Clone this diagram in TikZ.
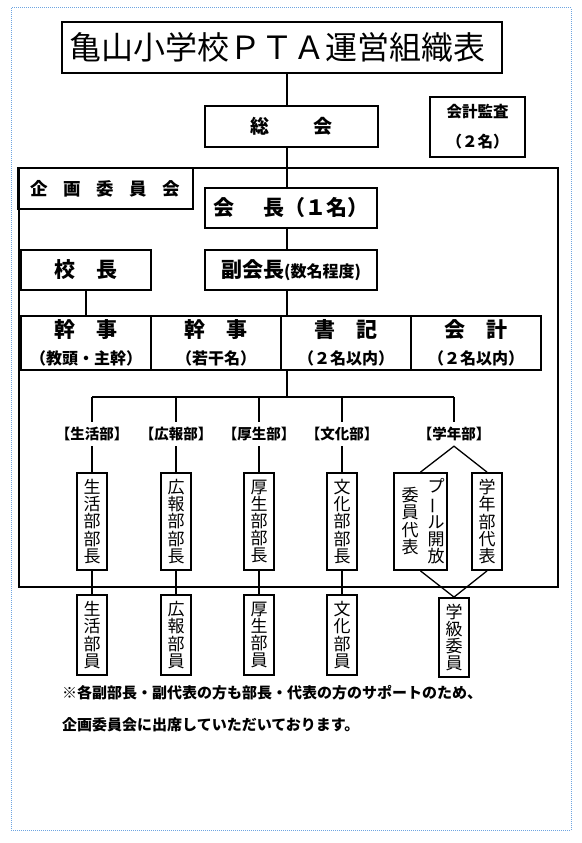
\documentclass[tikz,border=0pt]{standalone}
\usepackage{fontspec}
\setmainfont{Noto Sans CJK JP}
\usetikzlibrary{positioning}

\newcommand{\fs}[2]{\fontsize{#1}{#2}\selectfont}

\begin{document}
\begin{tikzpicture}[x=1pt, y=-1pt,
    box/.style={rectangle, draw=black, line width=1.3pt, inner sep=0pt, align=center, font=\bfseries\fs{21}{24}},
    thickbox/.style={box, line width=2.8pt},
    yaku/.style={box, minimum width=130pt, minimum height=54pt, font=\bfseries\fs{16}{27}},
    dept/.style={inner sep=0pt, minimum height=24pt, font=\bfseries\fs{14.5}{14.5}},
    tatebox/.style={rectangle, draw=black, line width=1.8pt, inner sep=0pt, minimum width=30pt, align=center, font=\fs{17}{17.2}},
    tatetext/.style={inner sep=0pt, align=center, font=\fs{17}{17.2}},
    link/.style={line width=1.3pt}
]
\useasboundingbox (0,0) rectangle (581,843);
\draw[densely dotted, line width=1pt, draw={rgb,255:red,110;green,165;blue,225}] (11,8) rectangle (571,830);

% top of the chart
\node[box, line width=2pt, minimum height=51pt, align=left, text width=426pt, inner xsep=7pt, font=\fs{32}{32}] (title) at (282,47.5) {亀山小学校ＰＴＡ運営組織表};
\node[thickbox, minimum width=173pt, minimum height=41pt, font=\bfseries\fs{19}{20}] (soukai) at (291.5,126.5) {総\hspace{2.3em}会};
\node[box, line width=1.8pt, minimum width=95pt, minimum height=60pt, font=\bfseries\fs{15.5}{30}] (kansa) at (477.5,127) {会計監査\\（２名）};

% planning committee
\node[draw, line width=2.2pt, minimum width=539pt, minimum height=419pt, inner sep=0pt] (kikaku) at (288.5,377.5) {};
\node[thickbox, minimum width=175pt, minimum height=41pt, font=\bfseries\fs{17.5}{17.5}] (kikakulabel) at (105.5,188.5) {企\hspace{0.88em}画\hspace{0.88em}委\hspace{0.88em}員\hspace{0.88em}会};
\node[box, minimum width=172pt, minimum height=40pt] (kaicho) at (291,208) {会\hspace{1.4em}長（１名）};
\node[box, minimum width=172pt, minimum height=40pt] (fuku) at (291,270) {副会長{\fs{16}{16}(数名程度)}};
\node[box, line width=1.8pt, minimum width=130pt, minimum height=40pt] (kocho) at (86,270) {校　長};

\node[yaku] (kanji1) at (86,343) {{\fs{21}{27}幹　事}\\（教頭・主幹）};
\node[yaku] (kanji2) at (216,343) {{\fs{21}{27}幹　事}\\（若干名）};
\node[yaku] (shoki) at (346,343) {{\fs{21}{27}書　記}\\（２名以内）};
\node[yaku] (kaikei) at (476,343) {{\fs{21}{27}会　計}\\（２名以内）};

% departments
\node[dept] (lab1) at (92,434) {【生活部】};
\node[dept] (lab2) at (176,434) {【広報部】};
\node[dept] (lab3) at (259,434) {【厚生部】};
\node[dept] (lab4) at (342,434) {【文化部】};
\node[dept] (lab5) at (454,434) {【学年部】};

\node[tatebox, minimum height=97pt] (head1) at (92,521.5) {生\\活\\部\\部\\長};
\node[tatebox, minimum height=97pt] (head2) at (176,521.5) {広\\報\\部\\部\\長};
\node[tatebox, minimum height=97pt] (head3) at (259,521.5) {厚\\生\\部\\部\\長};
\node[tatebox, minimum height=97pt] (head4) at (342,521.5) {文\\化\\部\\部\\長};
\node[tatebox, minimum width=53pt, minimum height=97pt] (pool) at (420.5,521.5) {};
\node[tatetext] (poolR) at (436,521) {プ\\\rotatebox[origin=c]{90}{ー}\\ル\\開\\放};
\node[tatetext] (poolL) at (410,521) {委\\員\\代\\表};
\node[tatebox, minimum height=97pt] (gakunen) at (487,521.5) {学\\年\\部\\代\\表};

\node[tatebox, minimum height=80pt] (mem1) at (92,635) {生\\活\\部\\員};
\node[tatebox, minimum height=80pt] (mem2) at (176,635) {広\\報\\部\\員};
\node[tatebox, minimum height=80pt] (mem3) at (259,635) {厚\\生\\部\\員};
\node[tatebox, minimum height=80pt] (mem4) at (342,635) {文\\化\\部\\員};
\node[tatebox, minimum height=79pt] (kyu) at (454,637.5) {学\\級\\委\\員};

% note
\node[anchor=west, inner sep=0pt, font=\bfseries\fs{15}{16}] (note1) at (62,693) {※各副部長・副代表の方も部長・代表の方のサポートのため、};
\node[anchor=west, inner sep=0pt, font=\bfseries\fs{15}{16}] (note2) at (62,725) {企画委員会に出席していただいております。};

% connectors
\coordinate (spine) at (287,0);
\coordinate (bar) at (287,397);
\draw[link] (title.south -| spine) -- (soukai.north -| spine);
\draw[link] (soukai.south -| spine) -- (kaicho.north -| spine);
\draw[link] (kaicho.south -| spine) -- (fuku.north -| spine);
\draw[link] (fuku.south -| spine) -- (shoki.north -| spine);
\draw[link] (kocho.south) -- (kanji1.north);
\draw[link] (shoki.south -| spine) -- (bar);
\draw[link] (bar -| lab1) -- (bar -| lab5);
\draw[link] (bar -| lab1) -- (lab1.north);
\draw[link] (bar -| lab2) -- (lab2.north);
\draw[link] (bar -| lab3) -- (lab3.north);
\draw[link] (bar -| lab4) -- (lab4.north);
\draw[link] (bar -| lab5) -- (lab5.north);
\draw[link] (lab1.south) -- (head1.north);
\draw[link] (lab2.south) -- (head2.north);
\draw[link] (lab3.south) -- (head3.north);
\draw[link] (lab4.south) -- (head4.north);
\draw[link] (pool.north) -- (lab5.south) -- (gakunen.north);
\draw[link] (head1.south) -- (mem1.north);
\draw[link] (head2.south) -- (mem2.north);
\draw[link] (head3.south) -- (mem3.north);
\draw[link] (head4.south) -- (mem4.north);
\draw[link] (pool.south) -- (kyu.north) -- (gakunen.south);
\end{tikzpicture}
\end{document}
